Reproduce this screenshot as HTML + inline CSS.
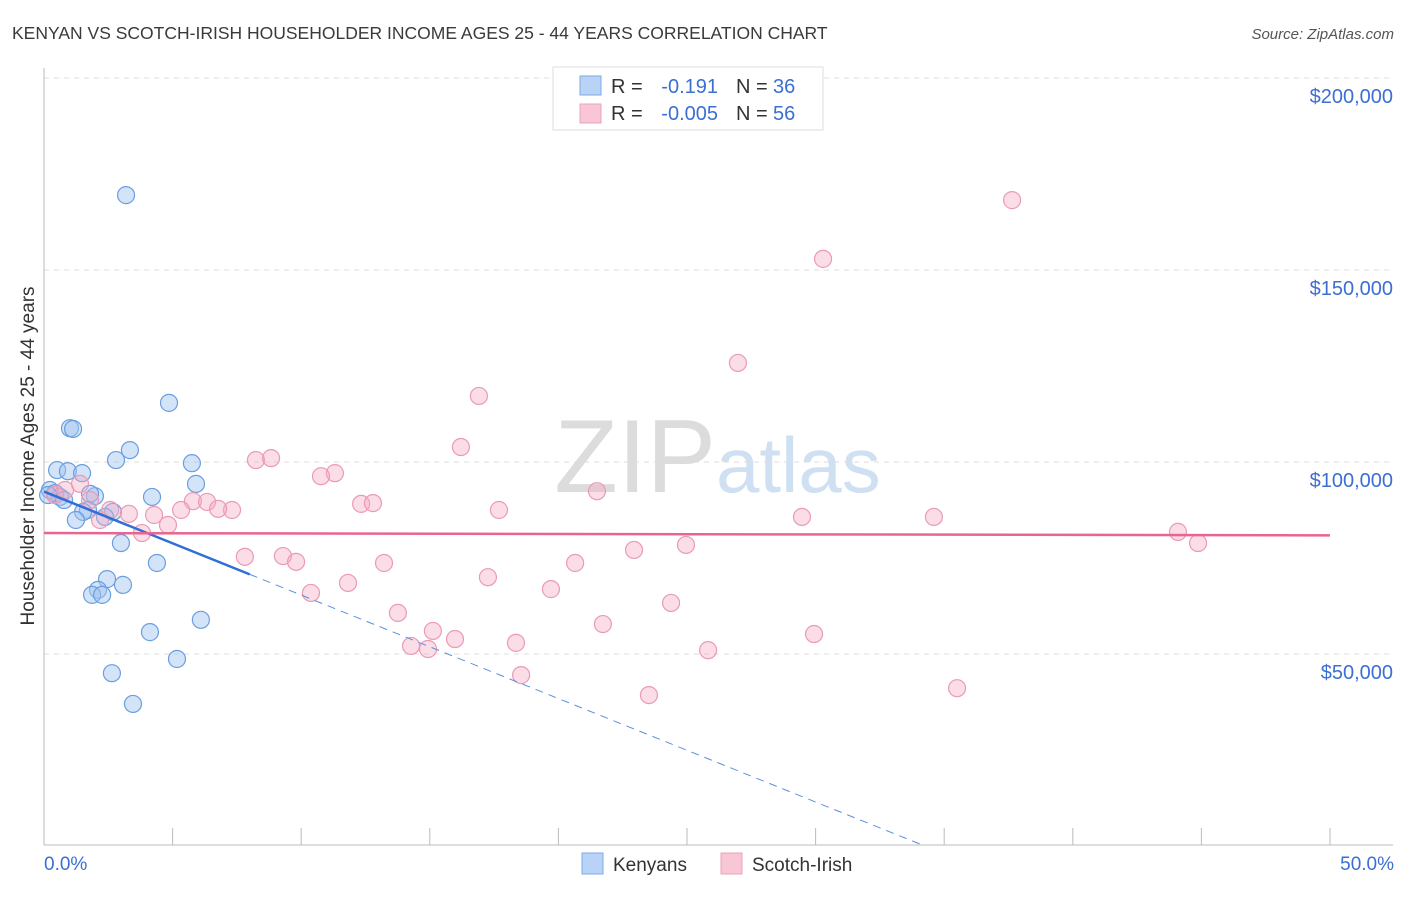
<!DOCTYPE html>
<html><head><meta charset="utf-8"><style>
body{margin:0;background:#fff;font-family:"Liberation Sans",sans-serif;}
svg text{font-family:"Liberation Sans",sans-serif;}
</style></head><body>
<svg id="chart" width="1406" height="892">
<text x="12" y="39" font-size="17.5" fill="#3a3a3a">KENYAN VS SCOTCH-IRISH HOUSEHOLDER INCOME AGES 25 - 44 YEARS CORRELATION CHART</text>
<text x="1394" y="39" font-size="15" fill="#555" font-style="italic" text-anchor="end">Source: ZipAtlas.com</text>
<text x="716" y="492" font-size="104" fill="#dcdcdc" text-anchor="end" font-family="Liberation Serif">ZIP</text>
<text x="716" y="492" font-size="78" fill="#cfe0f3">atlas</text>
<g id="grid"></g><g id="axes"></g><g id="pts"></g><g id="trends"></g>
<text transform="translate(34,456) rotate(-90)" font-size="19" fill="#333" text-anchor="middle">Householder Income Ages 25 - 44 years</text>
<text x="44" y="870" font-size="19" fill="#3b6fd1">0.0%</text>
<text x="1394" y="870" font-size="19" fill="#3b6fd1" text-anchor="end">50.0%</text>
<g>
<rect x="553" y="67" width="270" height="63" fill="#fff" stroke="#ddd"/>
<rect x="580" y="76" width="21" height="19" fill="#b8d3f5" stroke="#7fa9e6"/>
<rect x="580" y="104" width="21" height="19" fill="#f9c6d6" stroke="#eba1bb"/>
<text x="611" y="93" font-size="20" fill="#333">R =</text>
<text x="718" y="93" font-size="20" fill="#3b6fd1" text-anchor="end">-0.191</text>
<text x="736" y="93" font-size="20" fill="#333">N =</text>
<text x="773" y="93" font-size="20" fill="#3b6fd1">36</text>
<text x="611" y="120" font-size="20" fill="#333">R =</text>
<text x="718" y="120" font-size="20" fill="#3b6fd1" text-anchor="end">-0.005</text>
<text x="736" y="120" font-size="20" fill="#333">N =</text>
<text x="773" y="120" font-size="20" fill="#3b6fd1">56</text>
</g>
<g>
<rect x="582" y="853" width="21" height="21" fill="#b8d3f5" stroke="#7fa9e6"/>
<text x="613" y="871" font-size="19" fill="#333">Kenyans</text>
<rect x="721" y="853" width="21" height="21" fill="#f9c6d6" stroke="#eba1bb"/>
<text x="752" y="871" font-size="19" fill="#333">Scotch-Irish</text>
</g>
</svg>
<script>
const yTicks=[50000,100000,150000,200000];
const yTickLabels=["$50,000","$100,000","$150,000","$200,000"];
const kenX=[3.19,4.86,1.01,1.13,3.34,2.80,5.75,0.51,0.93,1.48,5.91,4.20,1.98,1.79,0.23,0.43,0.62,1.71,2.68,1.52,2.37,1.24,2.99,4.39,2.45,3.07,2.10,1.87,2.26,6.10,4.12,5.17,2.64,3.46,0.16,0.78];
const kenY=[169500,115400,108800,108600,103100,100500,99700,97900,97600,97100,94300,90900,91100,91700,92700,91900,90900,87500,87000,87000,85700,84900,78900,73700,69500,68000,66700,65400,65400,58900,55700,48700,45000,37000,91400,90100];
const scoX=[37.64,30.29,26.98,16.91,16.21,8.24,8.83,11.31,10.77,12.33,12.79,21.50,5.79,6.34,7.31,6.77,5.33,17.69,4.28,4.82,3.30,2.18,3.81,29.47,34.60,44.09,44.87,7.81,9.29,9.80,13.22,11.82,17.26,20.65,22.94,24.96,10.38,19.71,24.38,13.76,15.12,21.73,15.98,18.35,29.94,14.27,14.93,25.82,18.55,23.52,35.50,0.43,0.82,1.40,1.79,2.57];
const scoY=[168200,152900,125800,117200,103900,100500,101000,97100,96300,89100,89300,92400,89800,89600,87500,87800,87500,87500,86200,83600,86500,84900,81500,85700,85700,81800,78900,75300,75500,74000,73700,68500,70000,73700,77100,78400,65900,66900,63300,60700,56000,57800,53900,52900,55200,52100,51300,51000,44500,39300,41100,91400,92700,94300,90100,87500];
const kenTrend=[92300,-2695,8.0];
const scoTrend=[81500,-12];
const NS="http://www.w3.org/2000/svg";
const X=p=>44+p*(1286/50);
const Y=v=>846-v*(192/50000);
function mk(t,a,p){const e=document.createElementNS(NS,t);for(const k in a)e.setAttribute(k,a[k]);document.getElementById(p).appendChild(e);return e;}
yTicks.forEach((t,i)=>{
 const g=mk('line',{x1:44,x2:1393,y1:Y(t),y2:Y(t),stroke:'#ddd','stroke-dasharray':'5,5'},'grid');
 
 
 const l=mk('text',{x:1393,y:Y(t)+25,'font-size':20,fill:'#3b6fd1','text-anchor':'end'},'grid');
 l.textContent=yTickLabels[i];
 
 
});
mk('line',{x1:44,x2:44,y1:68,y2:845,stroke:'#bbb'},'axes');
mk('line',{x1:44,x2:1393,y1:845,y2:845,stroke:'#bbb'},'axes');
for(let k=1;k<=10;k++){const t=mk('line',{x1:X(k*5),x2:X(k*5),y1:828,y2:845,stroke:'#bbb'},'axes');
 
 }
kenX.forEach((x,i)=>{const c=mk('circle',{cx:X(x),cy:Y(kenY[i]),r:8.5,fill:'rgba(160,196,240,0.45)',stroke:'#6a9ee0','stroke-width':1.2},'pts');
 
 });
scoX.forEach((x,i)=>{const c=mk('circle',{cx:X(x),cy:Y(scoY[i]),r:8.5,fill:'rgba(245,170,195,0.4)',stroke:'#eb9ab5','stroke-width':1.2},'pts');
 
 });
const kz=-kenTrend[0]/kenTrend[1];
const b1=mk('line',{x1:X(0),y1:Y(kenTrend[0]),x2:X(kenTrend[2]),y2:Y(kenTrend[0]+kenTrend[1]*kenTrend[2]),stroke:'#2f6fd6','stroke-width':2.5},'trends');


const b2=mk('line',{x1:X(kenTrend[2]),y1:Y(kenTrend[0]+kenTrend[1]*kenTrend[2]),x2:X(kz),y2:Y(0),stroke:'#5b8fe0','stroke-width':1,'stroke-dasharray':'8,6'},'trends');


const p1=mk('line',{x1:X(0),y1:Y(scoTrend[0]),x2:X(50),y2:Y(scoTrend[0]+scoTrend[1]*50),stroke:'#e8658f','stroke-width':2.5},'trends');


</script>
</body></html>
